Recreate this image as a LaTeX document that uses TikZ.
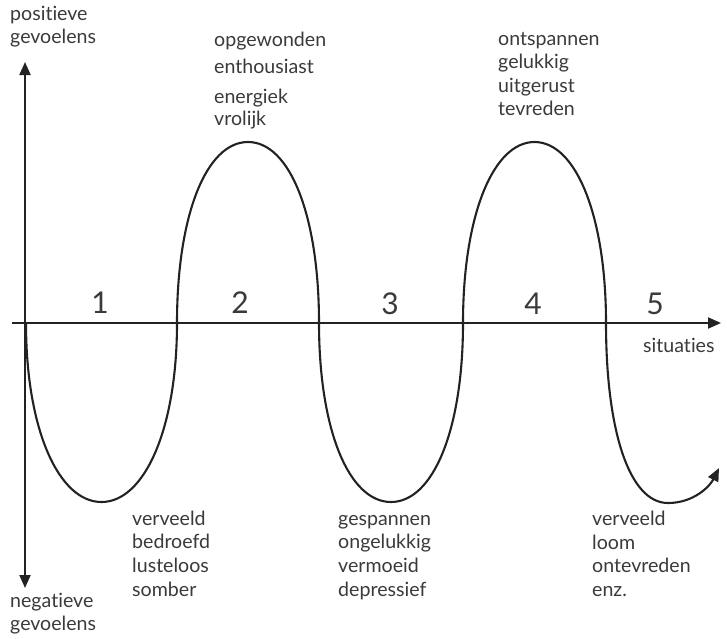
\documentclass[tikz,border=0pt]{standalone}
\usepackage{fontspec}
\setmainfont{Lato}[Ligatures={NoCommon,NoRequired,NoContextual}]
\usetikzlibrary{arrows.meta}
\definecolor{ink}{HTML}{222222}
\definecolor{txt}{HTML}{3A3A3A}
\begin{document}
\begin{tikzpicture}[x=1pt,y=-1pt,
  lbl/.style={anchor=base west, inner sep=0pt, text=txt, font=\fontsize{19.6}{23}\selectfont},
  num/.style={anchor=base, inner sep=0pt, text=txt, font=\fontsize{30}{30}\selectfont},
  axisline/.style={draw=ink, line width=1.9pt},
  wave/.style={draw=ink, line width=2.1pt}]
\useasboundingbox (0,0) rectangle (727,638);
% axes
\coordinate (ytop) at (25,62);
\coordinate (ybot) at (25,588);
\coordinate (xl) at (12,323);
\coordinate (xr) at (721,323);
\draw[axisline, {Triangle[length=13pt,width=11pt]}-{Triangle[length=13pt,width=11pt]}] (ybot) -- (ytop);
\draw[axisline, -{Triangle[length=13pt,width=11pt]}] (xl) -- (xr);
% wave
\coordinate (w0) at (26,323);
\coordinate (wend) at (719,468);
\draw[wave, -{Triangle[length=13pt,width=11pt]}] (w0)
  .. controls (26,430) and (59,502) .. (101.5,502) .. controls (144,502) and (177,430) .. (177,323)
  .. controls (177,216) and (206,142) .. (248,142) .. controls (290,142) and (319,216) .. (319,323)
  .. controls (319,430) and (349,502) .. (391,502) .. controls (433,502) and (463,430) .. (463,323)
  .. controls (463,216) and (493,142) .. (534.5,142) .. controls (576,142) and (606,216) .. (606,323)
  .. controls (606,430) and (629,503) .. (668,503) .. controls (694,503) and (710,486) .. (wend);
% axis labels
\node[lbl] (p1) at (10,20) {positieve};
\node[lbl] (p2) at (10,43) {gevoelens};
\node[lbl] (n1) at (10,607) {negatieve};
\node[lbl] (n2) at (10,630) {gevoelens};
\node[lbl] (sit) at (643,352) {situaties};
% numbers
\node[num] (s1) at (100,313) {1};
\node[num] (s2) at (240,313) {2};
\node[num] (s3) at (390,314) {3};
\node[num] (s4) at (533,314) {4};
\node[num] (s5) at (655,314) {5};
% top group 1
\node[lbl] (a1) at (214,46) {opgewonden};
\node[lbl] (a2) at (214,73) {enthousiast};
\node[lbl] (a3) at (214,103) {energiek};
\node[lbl] (a4) at (214,125) {vrolijk};
% top group 2
\node[lbl] (b1) at (498,45) {ontspannen};
\node[lbl] (b2) at (498,68) {gelukkig};
\node[lbl] (b3) at (498,92) {uitgerust};
\node[lbl] (b4) at (498,115) {tevreden};
% bottom group 1
\node[lbl] (c1) at (132,525) {verveeld};
\node[lbl] (c2) at (132,548) {bedroefd};
\node[lbl] (c3) at (132,572) {lusteloos};
\node[lbl] (c4) at (132,596) {somber};
% bottom group 2
\node[lbl] (d1) at (338,525) {gespannen};
\node[lbl] (d2) at (338,548) {ongelukkig};
\node[lbl] (d3) at (338,572) {vermoeid};
\node[lbl] (d4) at (338,596) {depressief};
% bottom group 3
\node[lbl] (e1) at (592,525) {verveeld};
\node[lbl] (e2) at (592,549) {loom};
\node[lbl] (e3) at (592,572) {ontevreden};
\node[lbl] (e4) at (592,596) {enz.};
\end{tikzpicture}
\end{document}
